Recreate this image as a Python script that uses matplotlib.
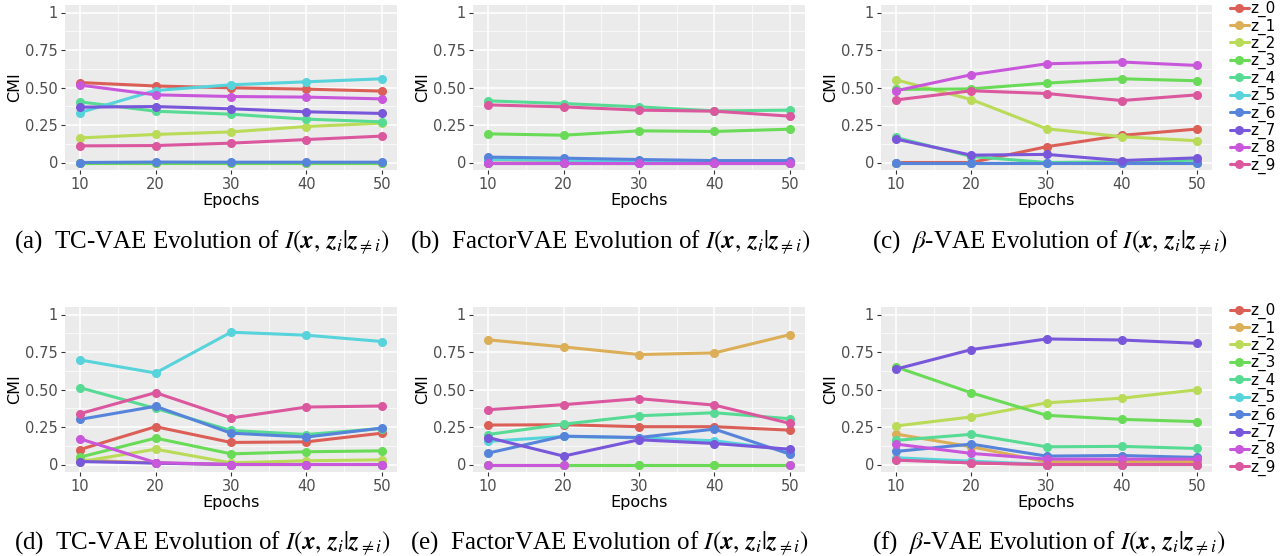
import numpy as np
import matplotlib
matplotlib.use("Agg")
import matplotlib.pyplot as plt
import seaborn as sns

# epochs / latent names
epochs = [10, 20, 30, 40, 50]
latents = ["z_0", "z_1", "z_2", "z_3", "z_4", "z_5", "z_6", "z_7", "z_8", "z_9"]
nan = np.nan

# (a) TC-VAE, rows = z_0 ... z_9
tcvae_top = [
    [0.533, 0.510, 0.498, 0.489, 0.476],
    [0.0, 0.0, 0.0, 0.0, 0.0],
    [0.164, 0.187, 0.204, 0.240, 0.262],
    [0.0, 0.0, 0.0, 0.0, 0.0],
    [0.404, 0.342, 0.322, 0.289, 0.271],
    [0.333, 0.480, 0.518, 0.538, 0.558],
    [0.0, 0.003, 0.002, 0.002, 0.002],
    [0.369, 0.373, 0.358, 0.338, 0.327],
    [0.516, 0.451, 0.440, 0.436, 0.424],
    [0.111, 0.113, 0.129, 0.153, 0.176],
]
# (b) FactorVAE
factorvae_top = [
    [0.0, 0.0, 0.0, 0.0, 0.0],
    [0.018, 0.013, 0.005, 0.0, 0.0],
    [0.0, 0.0, 0.0, 0.0, 0.0],
    [0.191, 0.182, 0.211, 0.207, 0.222],
    [0.411, 0.393, 0.371, 0.344, 0.349],
    [0.020, 0.015, 0.010, 0.005, 0.005],
    [0.036, 0.029, 0.020, 0.013, 0.013],
    [0.0, 0.0, 0.0, 0.0, 0.0],
    [0.0, 0.0, 0.0, 0.0, 0.0],
    [0.384, 0.371, 0.349, 0.342, 0.309],
]
# (c) beta-VAE
betavae_top = [
    [0.0, 0.0, 0.105, 0.181, 0.223],
    [0.0, 0.0, 0.0, 0.0, 0.0],
    [0.551, 0.420, 0.225, 0.172, 0.145],
    [0.487, 0.491, 0.529, 0.558, 0.545],
    [0.167, 0.040, 0.0, 0.005, 0.016],
    [0.0, 0.0, 0.0, 0.0, 0.0],
    [0.0, 0.0, 0.0, 0.0, 0.0],
    [0.156, 0.049, 0.054, 0.013, 0.031],
    [0.478, 0.585, 0.658, 0.670, 0.647],
    [0.417, 0.478, 0.460, 0.413, 0.451],
]
# (d) TC-VAE
tcvae_bottom = [
    [0.100, 0.252, 0.147, 0.151, 0.209],
    [0.030, 0.010, 0.0, 0.0, 0.0],
    [0.018, 0.102, 0.011, 0.025, 0.031],
    [0.049, 0.176, 0.071, 0.085, 0.091],
    [0.512, 0.374, 0.227, 0.200, 0.240],
    [0.697, 0.610, 0.882, 0.862, 0.820],
    [0.301, 0.388, 0.209, 0.183, 0.243],
    [0.020, 0.009, 0.0, 0.0, 0.0],
    [0.171, 0.013, 0.0, 0.0, 0.0],
    [0.339, 0.479, 0.310, 0.383, 0.390],
]
# (e) FactorVAE
factorvae_bottom = [
    [0.263, 0.265, 0.252, 0.252, 0.229],
    [0.831, 0.784, 0.733, 0.744, 0.866],
    [0.0, 0.0, 0.0, 0.0, 0.0],
    [0.0, 0.0, 0.0, 0.0, 0.0],
    [0.200, 0.269, 0.325, 0.345, 0.305],
    [0.154, 0.187, 0.178, 0.158, 0.094],
    [0.076, 0.189, 0.180, 0.236, 0.069],
    [0.180, 0.056, 0.165, 0.140, 0.102],
    [0.0, 0.0, nan, nan, 0.0],
    [0.365, 0.399, 0.439, 0.396, 0.274],
]
# (f) beta-VAE
betavae_bottom = [
    [0.035, 0.010, 0.0, 0.0, 0.0],
    [0.203, 0.118, 0.018, 0.020, 0.020],
    [0.257, 0.317, 0.411, 0.442, 0.498],
    [0.650, 0.478, 0.328, 0.301, 0.286],
    [0.161, 0.201, 0.118, 0.121, 0.107],
    [0.045, 0.022, 0.0, 0.0, 0.0],
    [0.087, 0.136, 0.056, 0.060, 0.047],
    [0.636, 0.766, 0.837, 0.830, 0.808],
    [0.136, 0.074, 0.036, 0.036, 0.036],
    [0.029, 0.011, 0.0, 0.0, 0.0],
]

captions_top = ["(a)  TC-VAE Evolution of ", "(b)  FactorVAE Evolution of ", r"(c)  $\beta$-VAE Evolution of "]
captions_bottom = ["(d)  TC-VAE Evolution of ", "(e)  FactorVAE Evolution of ", r"(f)  $\beta$-VAE Evolution of "]
cmi_expr = r"$I(\mathbfit{x},\, \mathbfit{z}_i|\mathbfit{z}_{\neq i})$"

colors = sns.color_palette("hls", 10)

plt.rcParams['font.family'] = ['DejaVu Sans']
plt.rcParams['mathtext.fontset'] = 'stix'

W, H = 1281, 556
fig = plt.figure(figsize=(W / 100, H / 100), dpi=100)


def px_axes(left, top, right, bottom):
    return fig.add_axes([left / W, 1 - bottom / H, (right - left) / W, (bottom - top) / H])


def draw_panel(ax, data, legend=False):
    ax.set_facecolor("#EBEBEB")
    for s in ax.spines.values():
        s.set_visible(False)
    ax.set_xlim(8, 52)
    ax.set_ylim(-0.05, 1.05)
    ax.set_xticks(epochs)
    ax.set_xticks([15, 25, 35, 45], minor=True)
    ax.set_yticks([0, 0.25, 0.5, 0.75, 1])
    ax.set_yticklabels(["0", "0.25", "0.50", "0.75", "1"])
    ax.set_yticks([0.125, 0.375, 0.625, 0.875], minor=True)
    ax.grid(which="major", color="white", linewidth=1.1)
    ax.grid(which="minor", color="white", linewidth=0.5)
    ax.set_axisbelow(True)
    ax.tick_params(which="major", length=3, color="#333333", labelsize=10.5,
                   labelcolor="#4D4D4D", pad=2)
    ax.tick_params(which="minor", length=0)
    for i, name in enumerate(latents):
        ax.plot(epochs, data[i], color=colors[i], linewidth=2.2, marker="o",
                markersize=5.5, label=name, solid_capstyle="round")
    ax.set_xlabel("Epochs", fontsize=11.5, labelpad=1)
    ax.set_ylabel("CMI", fontsize=11.5, labelpad=2)
    if legend:
        leg = ax.legend(loc="upper left", bbox_to_anchor=(1.055, 1.025), frameon=False,
                        fontsize=11, handlelength=1.2, handletextpad=0.15,
                        labelspacing=0.08, borderaxespad=0, borderpad=0)
        for h in leg.legend_handles:
            h.set_markersize(5.5)


lefts = [(65, 397), (473, 805), (881, 1212)]
cap_x = [14, 410, 872]

top_data = [tcvae_top, factorvae_top, betavae_top]
bottom_data = [tcvae_bottom, factorvae_bottom, betavae_bottom]

for j, (l, r) in enumerate(lefts):
    ax = px_axes(l, 5, r, 170)
    draw_panel(ax, top_data[j], legend=(j == 2))
    ax2 = px_axes(l, 307, r, 472)
    draw_panel(ax2, bottom_data[j], legend=(j == 2))

for j in range(3):
    fig.text(cap_x[j] / W, 1 - 242 / H, captions_top[j] + cmi_expr, fontsize=18,
             family="Liberation Serif", va="center", ha="left")
    fig.text(cap_x[j] / W, 1 - 543 / H, captions_bottom[j] + cmi_expr, fontsize=18,
             family="Liberation Serif", va="center", ha="left")

fig.savefig("out.png", dpi=100)
